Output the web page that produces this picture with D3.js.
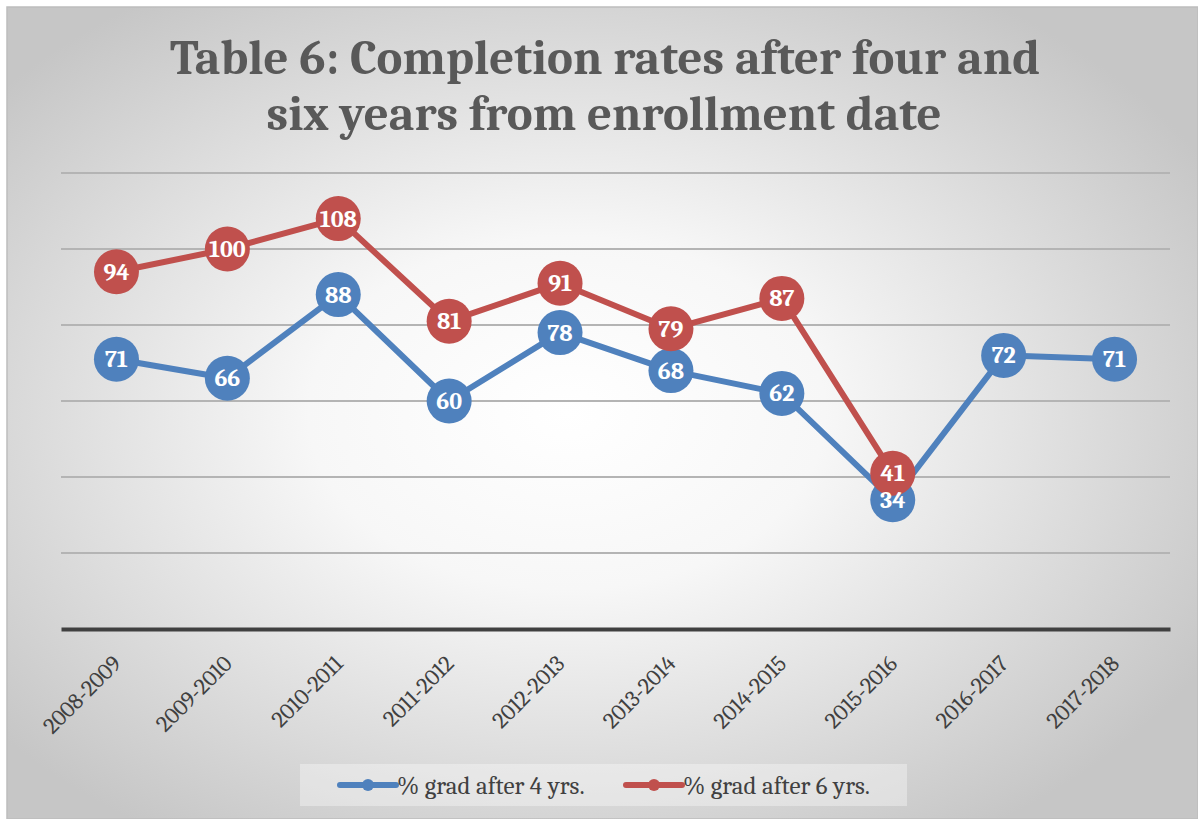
<!DOCTYPE html>
<html>
<head>
<meta charset="utf-8">
<script src="https://cdn.jsdelivr.net/npm/d3@7"></script>
<style>
  body { margin: 0; background: #fff; }
  svg { display: block; }
</style>
</head>
<body>
<div id="chart"></div>
<script>
// chart values
var years = ["2008-2009", "2009-2010", "2010-2011", "2011-2012", "2012-2013",
             "2013-2014", "2014-2015", "2015-2016", "2016-2017", "2017-2018"];
var grad4 = [71, 66, 88, 60, 78, 68, 62, 34, 72, 71];
var grad6 = [94, 100, 108, 81, 91, 79, 87, 41, null, null];
var seriesNames = ["% grad after 4 yrs.", "% grad after 6 yrs."];
var yTicks = [0, 20, 40, 60, 80, 100, 120];

var width = 1198, height = 819;
var serif = "Cambria, 'Liberation Serif', 'DejaVu Serif', serif";
var colors = ["#4f81bd", "#c0504d"];

var svg = d3.select("#chart").append("svg")
    .attr("width", width)
    .attr("height", height);

var defs = svg.append("defs");
var grad = defs.append("radialGradient")
    .attr("id", "bg")
    .attr("cx", "47%").attr("cy", "50%").attr("r", "62%");
grad.append("stop").attr("offset", "0%").attr("stop-color", "#ffffff");
grad.append("stop").attr("offset", "35%").attr("stop-color", "#f7f7f7");
grad.append("stop").attr("offset", "100%").attr("stop-color", "#c6c6c6");

svg.append("rect")
    .attr("x", 7).attr("y", 7)
    .attr("width", width - 7).attr("height", height - 7)
    .attr("fill", "url(#bg)")
    .attr("stroke", "#bdbdbd")
    .attr("stroke-width", 1.5);

// title
var title = svg.append("text")
    .attr("text-anchor", "middle")
    .attr("font-family", serif)
    .attr("font-weight", "bold")
    .attr("font-size", 48)
    .attr("fill", "#595959");
title.append("tspan").attr("x", 605).attr("y", 74)
    .attr("textLength", 870).attr("lengthAdjust", "spacingAndGlyphs")
    .text("Table 6: Completion rates after four and");
title.append("tspan").attr("x", 604).attr("y", 130)
    .attr("textLength", 675).attr("lengthAdjust", "spacingAndGlyphs")
    .text("six years from enrollment date");

var margin = {left: 61, right: 28, top: 173, bottom: 189};

var x = d3.scaleBand()
    .domain(years)
    .range([margin.left, width - margin.right]);

var y = d3.scaleLinear()
    .domain([0, 120])
    .range([height - margin.bottom - 1, margin.top]);

// gridlines
svg.append("g").selectAll("line")
    .data(yTicks.slice(1)).enter()
    .append("line")
    .attr("x1", margin.left).attr("x2", width - margin.right)
    .attr("y1", function(d){ return y(d); })
    .attr("y2", function(d){ return y(d); })
    .attr("stroke", "#b4b4b4")
    .attr("stroke-width", 2);

// x axis
var xAxis = svg.append("g")
    .attr("transform", "translate(0," + y(0) + ")")
    .call(d3.axisBottom(x).tickSize(0).tickPadding(0));
xAxis.select(".domain")
    .attr("stroke", "#404040")
    .attr("stroke-width", 4);
xAxis.selectAll("text")
    .attr("font-family", serif)
    .attr("font-size", 23)
    .attr("fill", "#404040")
    .attr("text-anchor", "end")
    .attr("dy", null)
    .attr("y", 0)
    .attr("transform", "translate(6,36) rotate(-45)");

var cx = function(i){ return x(years[i]) + x.bandwidth() / 2; };

var series = [grad4, grad6];

series.forEach(function(vals, s) {
    var pts = vals.map(function(v, i){ return {i: i, v: v}; })
        .filter(function(d){ return d.v != null; });

    var line = d3.line()
        .x(function(d){ return cx(d.i); })
        .y(function(d){ return y(d.v); });

    svg.append("path")
        .datum(pts)
        .attr("d", line)
        .attr("fill", "none")
        .attr("stroke", colors[s])
        .attr("stroke-width", 6)
        .attr("stroke-linejoin", "round");

    svg.append("g").selectAll("circle")
        .data(pts).enter()
        .append("circle")
        .attr("cx", function(d){ return cx(d.i); })
        .attr("cy", function(d){ return y(d.v); })
        .attr("r", 22.5)
        .attr("fill", colors[s]);
});

// data labels on top
series.forEach(function(vals, s) {
    var pts = vals.map(function(v, i){ return {i: i, v: v}; })
        .filter(function(d){ return d.v != null; });
    svg.append("g").selectAll("text")
        .data(pts).enter()
        .append("text")
        .attr("x", function(d){ return cx(d.i); })
        .attr("y", function(d){ return y(d.v) + 8; })
        .attr("text-anchor", "middle")
        .attr("font-family", serif)
        .attr("font-weight", "bold")
        .attr("font-size", 24)
        .attr("fill", "#ffffff")
        .text(function(d){ return d.v; });
});

// legend
var legend = svg.append("g");
legend.append("rect")
    .attr("x", 300).attr("y", 764)
    .attr("width", 607).attr("height", 42)
    .attr("fill", "#ffffff").attr("fill-opacity", 0.35);

var legendX = [340, 626];
seriesNames.forEach(function(name, s) {
    var g = legend.append("g").attr("transform", "translate(" + legendX[s] + ",785)");
    g.append("line")
        .attr("x1", 0).attr("x2", 56)
        .attr("stroke", colors[s])
        .attr("stroke-width", 6)
        .attr("stroke-linecap", "round");
    g.append("circle")
        .attr("cx", 28).attr("r", 6)
        .attr("fill", colors[s]);
    g.append("text")
        .attr("x", 57).attr("y", 9)
        .attr("font-family", serif)
        .attr("font-size", 25)
        .attr("fill", "#404040")
        .text(name);
});
</script>
</body>
</html>
